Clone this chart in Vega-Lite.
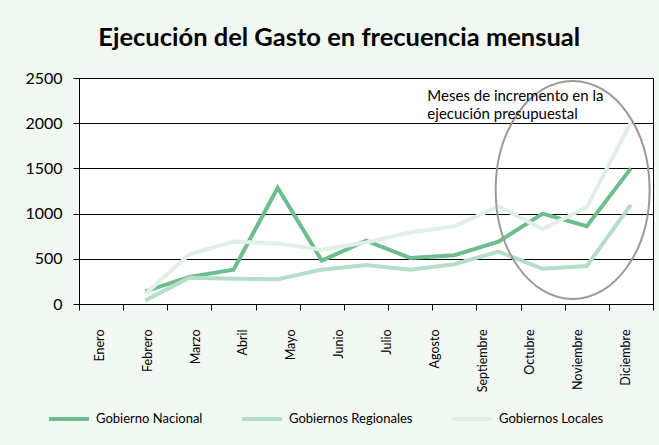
{
  "$schema": "https://vega.github.io/schema/vega-lite/v6.json",
  "width": 574,
  "height": 226,
  "autosize": {"type": "none"},
  "padding": {"left": 79, "top": 78, "right": 6, "bottom": 141},
  "background": "#f1f7f3",
  "title": {
    "text": "Ejecución del Gasto en frecuencia mensual",
    "font": "Lato",
    "fontSize": 25.5,
    "fontWeight": "bold",
    "color": "black",
    "anchor": "middle",
    "frame": "bounds",
    "offset": 19
  },
  "config": {
    "font": "Lato",
    "view": {"fill": "white", "stroke": "black", "strokeWidth": 1},
    "axis": {
      "labelColor": "black",
      "tickColor": "black",
      "domainColor": "black",
      "labelFont": "Lato",
      "title": null
    }
  },
  "data": {
    "values": [
      {"mes": "Enero", "gobierno": "Gobierno Nacional", "valor": 140},
      {"mes": "Febrero", "gobierno": "Gobierno Nacional", "valor": 300},
      {"mes": "Marzo", "gobierno": "Gobierno Nacional", "valor": 380},
      {"mes": "Abril", "gobierno": "Gobierno Nacional", "valor": 1285},
      {"mes": "Mayo", "gobierno": "Gobierno Nacional", "valor": 480},
      {"mes": "Junio", "gobierno": "Gobierno Nacional", "valor": 700},
      {"mes": "Julio", "gobierno": "Gobierno Nacional", "valor": 510},
      {"mes": "Agosto", "gobierno": "Gobierno Nacional", "valor": 540},
      {"mes": "Septiembre", "gobierno": "Gobierno Nacional", "valor": 690},
      {"mes": "Octubre", "gobierno": "Gobierno Nacional", "valor": 1000},
      {"mes": "Noviembre", "gobierno": "Gobierno Nacional", "valor": 860},
      {"mes": "Diciembre", "gobierno": "Gobierno Nacional", "valor": 1500},
      {"mes": "Enero", "gobierno": "Gobiernos Regionales", "valor": 40},
      {"mes": "Febrero", "gobierno": "Gobiernos Regionales", "valor": 290},
      {"mes": "Marzo", "gobierno": "Gobiernos Regionales", "valor": 280},
      {"mes": "Abril", "gobierno": "Gobiernos Regionales", "valor": 275},
      {"mes": "Mayo", "gobierno": "Gobiernos Regionales", "valor": 380},
      {"mes": "Junio", "gobierno": "Gobiernos Regionales", "valor": 430},
      {"mes": "Julio", "gobierno": "Gobiernos Regionales", "valor": 380},
      {"mes": "Agosto", "gobierno": "Gobiernos Regionales", "valor": 440},
      {"mes": "Septiembre", "gobierno": "Gobiernos Regionales", "valor": 580},
      {"mes": "Octubre", "gobierno": "Gobiernos Regionales", "valor": 390},
      {"mes": "Noviembre", "gobierno": "Gobiernos Regionales", "valor": 420},
      {"mes": "Diciembre", "gobierno": "Gobiernos Regionales", "valor": 1100},
      {"mes": "Enero", "gobierno": "Gobiernos Locales", "valor": 110},
      {"mes": "Febrero", "gobierno": "Gobiernos Locales", "valor": 550},
      {"mes": "Marzo", "gobierno": "Gobiernos Locales", "valor": 690},
      {"mes": "Abril", "gobierno": "Gobiernos Locales", "valor": 670},
      {"mes": "Mayo", "gobierno": "Gobiernos Locales", "valor": 600},
      {"mes": "Junio", "gobierno": "Gobiernos Locales", "valor": 680},
      {"mes": "Julio", "gobierno": "Gobiernos Locales", "valor": 790},
      {"mes": "Agosto", "gobierno": "Gobiernos Locales", "valor": 860},
      {"mes": "Septiembre", "gobierno": "Gobiernos Locales", "valor": 1080},
      {"mes": "Octubre", "gobierno": "Gobiernos Locales", "valor": 830},
      {"mes": "Noviembre", "gobierno": "Gobiernos Locales", "valor": 1070},
      {"mes": "Diciembre", "gobierno": "Gobiernos Locales", "valor": 2010}
    ]
  },
  "layer": [
    {
      "mark": {"type": "point", "opacity": 0, "size": 1},
      "encoding": {
        "x": {
          "field": "mes",
          "type": "ordinal",
          "scale": {
            "type": "band",
            "domain": ["Enero", "Febrero", "Marzo", "Abril", "Mayo", "Junio", "Julio", "Agosto", "Septiembre", "Octubre", "Noviembre", "Diciembre"],
            "paddingInner": 0,
            "paddingOuter": 0
          },
          "axis": {
            "orient": "bottom",
            "title": null,
            "ticks": false,
            "tickSize": 0,
            "domain": false,
            "grid": false,
            "labelAngle": -90,
            "labelPadding": 25,
            "labelOffset": -3,
            "labelFontSize": 12.5
          }
        }
      }
    },
    {
      "layer": [
        {
          "mark": {"type": "line", "strokeWidth": 4},
          "encoding": {
            "x": {
              "field": "mes",
              "type": "ordinal",
              "bandPosition": 0.5,
              "scale": {
                "type": "band",
                "domain": [" ", "Enero", "Febrero", "Marzo", "Abril", "Mayo", "Junio", "Julio", "Agosto", "Septiembre", "Octubre", "Noviembre", "Diciembre"],
                "paddingInner": 0,
                "paddingOuter": 0
              },
              "axis": {
                "orient": "bottom",
                "title": null,
                "labels": false,
                "ticks": true,
                "tickBand": "extent",
                "tickSize": 6,
                "domain": true,
                "grid": false
              }
            },
            "y": {
              "field": "valor",
              "type": "quantitative",
              "scale": {"domain": [0, 2500], "nice": false},
              "axis": {
                "title": null,
                "values": [0, 500, 1000, 1500, 2000, 2500],
                "format": "d",
                "grid": true,
                "gridColor": "black",
                "gridOpacity": 1,
                "tickSize": 6,
                "labelPadding": 11,
                "labelFontSize": 16
              }
            },
            "color": {
              "field": "gobierno",
              "type": "nominal",
              "scale": {
                "domain": ["Gobierno Nacional", "Gobiernos Regionales", "Gobiernos Locales"],
                "range": ["#6dbd8f", "#b4dec6", "#e0f0e6"]
              },
              "legend": {
                "orient": "none",
                "legendX": -32,
                "legendY": 319,
                "direction": "horizontal",
                "title": null,
                "symbolType": "stroke",
                "symbolSize": 1600,
                "symbolStrokeWidth": 4,
                "labelFontSize": 13,
                "labelColor": "black",
                "labelOffset": 5,
                "columnPadding": 31
              }
            }
          }
        },
        {
          "data": {"values": [{"nota": "Meses de incremento en la\nejecución presupuestal"}]},
          "layer": [
            {
              "mark": {
                "type": "point",
                "shape": "M 0.706 0 C 0.706 0.5523 0.39 1 0 1 C -0.39 1 -0.706 0.5523 -0.706 0 C -0.706 -0.5523 -0.39 -1 0 -1 C 0.39 -1 0.706 -0.5523 0.706 0 Z",
                "size": 47524,
                "filled": false,
                "stroke": "#9a9a9a",
                "strokeWidth": 2,
                "opacity": 1
              },
              "encoding": {
                "x": {"datum": "Noviembre", "type": "ordinal", "bandPosition": 0.18},
                "y": {"datum": 1262, "type": "quantitative"}
              }
            },
            {
              "mark": {
                "type": "text",
                "align": "left",
                "baseline": "alphabetic",
                "lineBreak": "\n",
                "fontSize": 15,
                "lineHeight": 18,
                "font": "Lato",
                "color": "black"
              },
              "encoding": {
                "x": {"datum": "Julio", "type": "ordinal", "bandPosition": 0.89},
                "y": {"datum": 2250, "type": "quantitative"},
                "text": {"field": "nota"}
              }
            }
          ]
        }
      ]
    }
  ],
  "resolve": {"scale": {"x": "independent"}, "axis": {"x": "independent"}}
}
